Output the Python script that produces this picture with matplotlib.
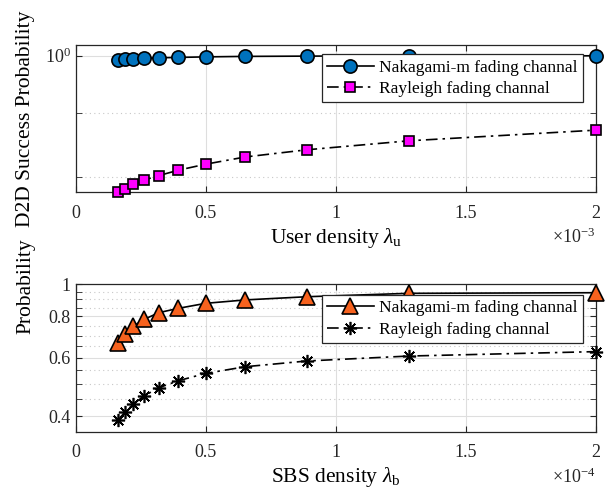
import numpy as np
import matplotlib
matplotlib.use("Agg")
import matplotlib.pyplot as plt
from matplotlib.ticker import FixedLocator, FuncFormatter, NullFormatter

plt.rcParams['font.family'] = ['Liberation Serif', 'DejaVu Serif']
plt.rcParams['mathtext.fontset'] = 'custom'
plt.rcParams['mathtext.rm'] = 'Liberation Serif'
plt.rcParams['mathtext.it'] = 'Liberation Serif:italic'

# user density (x1e-3) and D2D success probability
lam_u = np.array([0.163, 0.189, 0.222, 0.264, 0.32, 0.395, 0.5, 0.653, 0.889, 1.28, 2.0]) * 1e-3
d2d_nak = [0.992, 0.9934, 0.994, 0.9952, 0.9963, 0.997, 0.998, 0.9989, 0.9994, 1.0, 1.0]
d2d_ray = [0.7775, 0.7825, 0.789, 0.7955, 0.802, 0.810, 0.819, 0.830, 0.841, 0.855, 0.872]

# SBS density (x1e-4) and probability
lam_b = np.array([0.163, 0.189, 0.222, 0.264, 0.32, 0.395, 0.5, 0.653, 0.889, 1.28, 2.0]) * 1e-4
sbs_nak = [0.666, 0.708, 0.748, 0.784, 0.821, 0.846, 0.876, 0.897, 0.917, 0.939, 0.943]
sbs_ray = [0.389, 0.4105, 0.435, 0.4606, 0.487, 0.5113, 0.538, 0.5637, 0.5865, 0.607, 0.626]

leg_labels = ['Nakagami-m fading channal', 'Rayleigh fading channal']

fig = plt.figure(figsize=(6.13, 4.95), dpi=100)
ax1 = fig.add_axes([75.7 / 613, 0.612, 520 / 613, 0.297])
ax2 = fig.add_axes([75.7 / 613, 0.1279, 520 / 613, 0.2978])

edge = '#262626'
dashdot = (0, (7, 3, 1.5, 3))


def style_axes(ax, scale, major, minor, lab):
    ax.set_yscale('log')
    ax.set_xlim(0, 2 * scale)
    ax.xaxis.set_major_locator(FixedLocator(np.array([0, 0.5, 1, 1.5, 2]) * scale))
    ax.xaxis.set_major_formatter(FuncFormatter(lambda v, p: '%g' % round(v / scale, 3)))
    ax.yaxis.set_major_locator(FixedLocator(major))
    ax.yaxis.set_minor_locator(FixedLocator(minor))
    ax.yaxis.set_minor_formatter(NullFormatter())
    ax.grid(True, which='major', color='#dedede', lw=0.8, ls='-')
    ax.grid(True, which='minor', axis='y', color='#c8c8c8', lw=0.8, ls=(0, (1, 3)))
    ax.set_axisbelow(True)
    ax.tick_params(which='both', direction='in', top=True, right=True,
                   labelsize=13, colors=edge, labelcolor='#262626', length=4)
    ax.tick_params(axis='x', pad=9)
    for s in ax.spines.values():
        s.set_color(edge)
        s.set_linewidth(0.9)
    ax.text(1.0, -0.245, lab, transform=ax.transAxes, ha='right', va='top',
            fontsize=13, color='#262626')


def add_legend(ax, top):
    leg = ax.legend(loc='upper right', bbox_to_anchor=(0.975, top), fontsize=12.5,
                    frameon=True, fancybox=False, framealpha=1, edgecolor=edge,
                    borderpad=0.3, labelspacing=0.3, handlelength=2.7,
                    handletextpad=0.3, borderaxespad=0)
    leg.get_frame().set_linewidth(0.9)
    leg.set_zorder(10)


# top panel
ax1.plot(lam_u, d2d_nak, '-o', color='black', lw=1.2, mfc='#0072BD', mec='black',
         mew=1.2, ms=9.5, clip_on=False, zorder=3, label=leg_labels[0])
ax1.plot(lam_u, d2d_ray, ls=dashdot, marker='s', color='black', lw=1.2,
         mfc='#FF00FF', mec='black', mew=1.2, ms=7, clip_on=False, zorder=3,
         label=leg_labels[1])
ax1.set_ylim(0.778, 1.02)
style_axes(ax1, 1e-3, [1.0], [0.9, 0.8], r'$\times10^{-3}$')
ax1.yaxis.set_major_formatter(FuncFormatter(lambda v, p: r'$10^{0}$'))
ax1.set_xlabel(r'User density $\lambda_{\mathrm{u}}$', fontsize=15.5, labelpad=3)
ax1.set_ylabel('D2D Success Probability', fontsize=15.5)
ax1.yaxis.set_label_coords(-0.078, 0.5)
add_legend(ax1, 0.937)

# bottom panel
ax2.plot(lam_b, sbs_nak, '-^', color='black', lw=1.2, mfc='#F7621E', mec='black',
         mew=1.2, ms=11, clip_on=False, zorder=3, label=leg_labels[0])
ax2.plot(lam_b, sbs_ray, ls=dashdot, marker=(8, 2, 0), color='black', lw=1.2,
         mec='black', mew=1.2, ms=9.5, clip_on=False, zorder=3, label=leg_labels[1])
ax2.set_ylim(0.3587, 1.0)
style_axes(ax2, 1e-4, [0.4, 0.6, 0.8, 1.0],
           [0.45, 0.5, 0.55, 0.65, 0.7, 0.75, 0.85, 0.9, 0.95], r'$\times10^{-4}$')
ax2.yaxis.set_major_formatter(FuncFormatter(lambda v, p: '%g' % v))
ax2.set_xlabel(r'SBS density $\lambda_{\mathrm{b}}$', fontsize=15.5, labelpad=3)
ax2.set_ylabel('Probability', fontsize=15.5)
ax2.yaxis.set_label_coords(-0.078, 0.99)
add_legend(ax2, 0.927)

fig.savefig('out.png', dpi=100)
